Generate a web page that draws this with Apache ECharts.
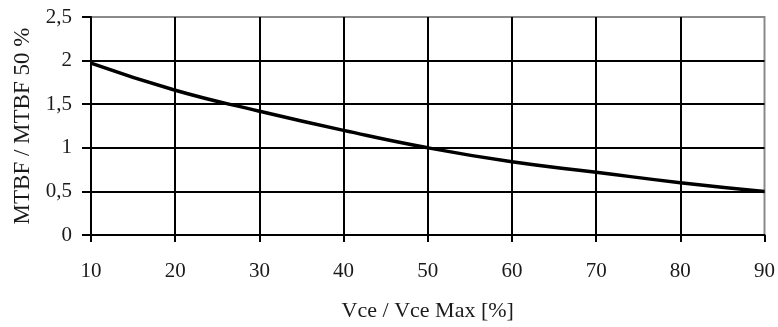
<!DOCTYPE html>
<html>
<head>
<meta charset="utf-8">
<script src="https://cdn.jsdelivr.net/npm/echarts@6/dist/echarts.min.js"></script>
<style>html,body{margin:0;padding:0;background:#fff}#c{width:778px;height:327px}</style>
</head>
<body>
<div id="c"></div>
<script>
const xValues = [10, 20, 30, 40, 50, 60, 70, 80, 90];
const ratioValues = [1.97, 1.66, 1.42, 1.2, 1.0, 0.84, 0.72, 0.6, 0.5];
const xTitle = 'Vce / Vce Max [%]';
const yTitle = 'MTBF / MTBF 50 %';

const chart = echarts.init(document.getElementById('c'), null, {renderer: 'canvas'});
const font = 'Liberation Serif';
chart.setOption({
  animation: false,
  backgroundColor: '#fff',
  grid: {left: 91, right: 10, top: 17, bottom: 88, show: true, borderColor: '#8a8a8a', borderWidth: 2, backgroundColor: 'transparent'},
  xAxis: {
    type: 'value', min: 10, max: 90, interval: 10,
    name: xTitle, nameLocation: 'middle', nameGap: 65,
    nameTextStyle: {fontFamily: font, fontSize: 22, color: '#1a1a1a'},
    axisLine: {lineStyle: {color: '#000', width: 2}},
    axisTick: {show: true, length: 7, lineStyle: {color: '#000', width: 2}},
    axisLabel: {margin: 26, fontFamily: font, fontSize: 21, color: '#1a1a1a'},
    splitLine: {show: true, showMaxLine: false, lineStyle: {color: '#000', width: 2}}
  },
  yAxis: {
    type: 'value', min: 0, max: 2.5, interval: 0.5,
    name: yTitle, nameLocation: 'middle', nameGap: 56, nameRotate: 90,
    nameTextStyle: {fontFamily: font, fontSize: 23, color: '#1a1a1a'},
    axisLine: {show: true, lineStyle: {color: '#000', width: 2}},
    axisTick: {show: true, length: 9, lineStyle: {color: '#000', width: 2}},
    axisLabel: {margin: 19, fontFamily: font, fontSize: 21, color: '#1a1a1a',
      formatter: v => String(v).replace('.', ',')},
    splitLine: {show: true, showMaxLine: false, lineStyle: {color: '#000', width: 2}}
  },
  series: [{
    type: 'line',
    data: xValues.map((x, i) => [x, ratioValues[i]]),
    smooth: true,
    showSymbol: false,
    lineStyle: {color: '#000', width: 3.5}
  }]
});
</script>
</body>
</html>
